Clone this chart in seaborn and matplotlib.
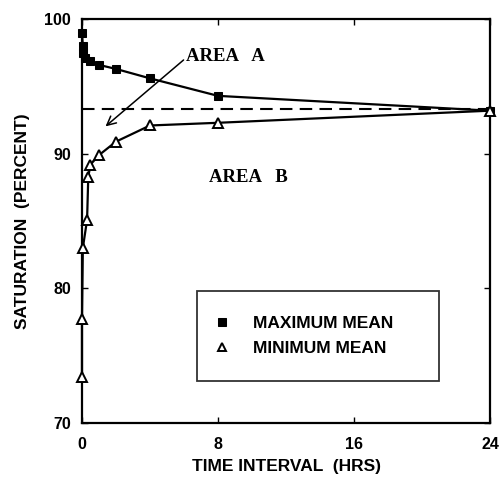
import matplotlib
matplotlib.use("Agg")
import matplotlib.pyplot as plt
import seaborn as sns
import pandas as pd

# Data
max_hours = [0.0, 0.05, 0.08, 0.17, 0.5, 1.0, 2.0, 4.0, 8.0, 24.0]
max_sat = [99.0, 98.0, 97.5, 97.1, 96.9, 96.6, 96.3, 95.6, 94.3, 93.2]

min_hours = [0.0, 0.0, 0.05, 0.3, 0.37, 0.5, 1.0, 2.0, 4.0, 8.0, 24.0]
min_sat = [73.4, 77.7, 83.0, 85.1, 88.3, 89.2, 89.9, 90.9, 92.1, 92.3, 93.2]

dash_level = 93.3
x_ticks = [0, 8, 16, 24]
y_ticks = [70, 80, 90, 100]
series_names = ["MAXIMUM MEAN", "MINIMUM MEAN"]

df_max = pd.DataFrame({"hours": max_hours, "sat": max_sat})
df_min = pd.DataFrame({"hours": min_hours, "sat": min_sat})

sns.set_style("ticks")
plt.rcParams["font.family"] = ["Liberation Sans", "DejaVu Sans"]
plt.rcParams["text.color"] = "black"
plt.rcParams["axes.labelcolor"] = "black"
plt.rcParams["xtick.color"] = "black"
plt.rcParams["ytick.color"] = "black"

fig = plt.figure(figsize=(4.99, 4.78), dpi=100)
ax = fig.add_axes([0.1643, 0.115, 0.8177, 0.845])

sns.lineplot(data=df_max, x="hours", y="sat", ax=ax, sort=False, estimator=None,
             color="black", lw=1.6, marker="s", markersize=6,
             markerfacecolor="black", markeredgecolor="black", label=series_names[0],
             clip_on=False, zorder=3)
sns.lineplot(data=df_min, x="hours", y="sat", ax=ax, sort=False, estimator=None,
             color="black", lw=1.6, marker="^", markersize=7.5,
             markerfacecolor="white", markeredgecolor="black", markeredgewidth=1.4,
             label=series_names[1], clip_on=False, zorder=3)

ax.plot([0, 24], [dash_level, dash_level], color="black", lw=1.5,
        linestyle=(0, (6, 3.5)), zorder=1)

ax.set_xlim(0, 24)
ax.set_ylim(70, 100)
ax.set_xticks(x_ticks)
ax.set_yticks(y_ticks)
ax.tick_params(direction="in", length=4, width=1, top=True, right=True,
               labelsize=11.5)
ax.tick_params(axis="x", pad=10)
ax.tick_params(axis="y", pad=8)
for lab in ax.get_xticklabels() + ax.get_yticklabels():
    lab.set_fontweight("bold")
for s in ax.spines.values():
    s.set_linewidth(1.6)
    s.set_color("black")

ax.set_xlabel("TIME INTERVAL  (HRS)", fontsize=12.5, fontweight="bold", labelpad=5)
ax.set_ylabel("SATURATION  (PERCENT)", fontsize=12.5, fontweight="bold", labelpad=10)

# Annotations
ax.annotate("", xy=(1.26, 91.9), xytext=(6.1, 97.1),
            arrowprops=dict(arrowstyle="->", color="black", lw=1.1,
                            mutation_scale=16))
ax.text(6.1, 97.2, "AREA   A", fontsize=13.5, fontweight="bold",
        family=["Liberation Serif", "DejaVu Serif"], va="center", ha="left")
ax.text(7.45, 88.2, "AREA   B", fontsize=13.5, fontweight="bold",
        family=["Liberation Serif", "DejaVu Serif"], va="center", ha="left")

leg = ax.legend(loc="upper left", bbox_to_anchor=(0.282, 0.101, 0.593, 0.226),
                mode="expand", frameon=True, fancybox=False,
                prop={"weight": "bold", "size": 12.5},
                handlelength=0, handletextpad=1.75, borderpad=1.45,
                labelspacing=0.55, borderaxespad=0, markerscale=0.85)
leg._legend_box.sep = 0
leg.get_frame().set_edgecolor("black")
leg.get_frame().set_linewidth(1.3)
for h in leg.legend_handles:
    h.set_linestyle("none")

fig.savefig("out.png", dpi=100)
